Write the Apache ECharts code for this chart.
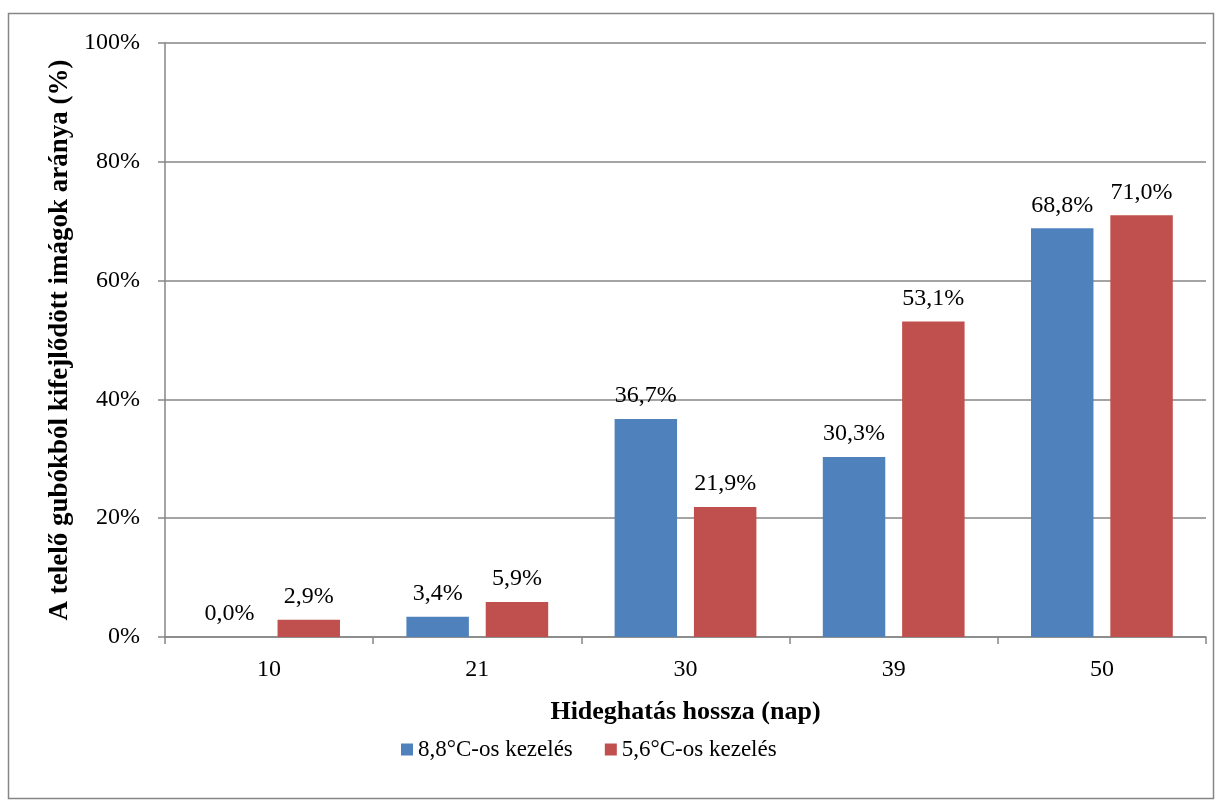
<!DOCTYPE html>
<html>
<head>
<meta charset="utf-8">
<script src="https://cdn.jsdelivr.net/npm/echarts@6/dist/echarts.min.js"></script>
<style>
  html, body { margin: 0; padding: 0; background: #fff; }
  #chart { width: 1222px; height: 807px; }
</style>
</head>
<body>
<div id="chart"></div>
<script>
const categories = ['10', '21', '30', '39', '50']
const series88 = [0.0, 3.4, 36.7, 30.3, 68.8]
const series56 = [2.9, 5.9, 21.9, 53.1, 71.0]
const seriesNames = ['8,8°C-os kezelés', '5,6°C-os kezelés']

const font = '"Liberation Serif", "Times New Roman", serif'
const fmt = v => v.toFixed(1).replace('.', ',') + '%'

const myChart = echarts.init(document.getElementById('chart'))
const labelOpt = {
    show: true,
    position: 'top',
    distance: 11,
    fontFamily: font,
    fontSize: 24,
    color: '#000',
    formatter: p => fmt(p.value)
}
const option = {
    animation: false,
    textStyle: { fontFamily: font },
    graphic: [{
        type: 'rect',
        shape: { x: 8.5, y: 13.5, width: 1205, height: 785 },
        style: { fill: 'none', stroke: '#868686', lineWidth: 1.5 },
        silent: true
    }],
    grid: { left: 165, right: 16, top: 43, bottom: 170 },
    legend: {
        top: 733,
        left: 396,
        itemWidth: 12,
        itemHeight: 12,
        itemGap: 32,
        icon: 'rect',
        textStyle: { fontFamily: font, fontSize: 23, color: '#000' },
        data: seriesNames
    },
    xAxis: {
        type: 'category',
        data: categories,
        name: 'Hideghatás hossza (nap)',
        nameLocation: 'middle',
        nameGap: 62,
        nameTextStyle: { fontFamily: font, fontSize: 26, fontWeight: 'bold', color: '#000' },
        axisLine: { lineStyle: { color: '#868686', width: 1.5 } },
        axisTick: { show: true, length: 7, lineStyle: { color: '#868686', width: 1.5 } },
        axisLabel: { fontFamily: font, fontSize: 24, color: '#000', margin: 21 }
    },
    yAxis: {
        type: 'value',
        min: 0,
        max: 100,
        interval: 20,
        name: 'A telelő gubókból kifejlődött imágok aránya (%)',
        nameLocation: 'middle',
        nameGap: 91,
        nameRotate: 90,
        nameTextStyle: { fontFamily: font, fontSize: 27, fontWeight: 'bold', color: '#000' },
        axisLine: { show: true, lineStyle: { color: '#868686', width: 1.5 } },
        axisTick: { show: true, inside: false, length: 7, lineStyle: { color: '#868686', width: 1.5 } },
        splitLine: { lineStyle: { color: '#868686', width: 1.5 } },
        axisLabel: { fontFamily: font, fontSize: 24, color: '#000', margin: 25, formatter: v => v + '%' }
    },
    series: [
        {
            name: seriesNames[0],
            type: 'bar',
            data: series88,
            barWidth: '30%',
            barGap: '27%',
            itemStyle: { color: '#4F81BD' },
            label: labelOpt
        },
        {
            name: seriesNames[1],
            type: 'bar',
            data: series56,
            barWidth: '30%',
            itemStyle: { color: '#C0504D' },
            label: labelOpt
        }
    ]
}
myChart.setOption(option)
</script>
</body>
</html>
